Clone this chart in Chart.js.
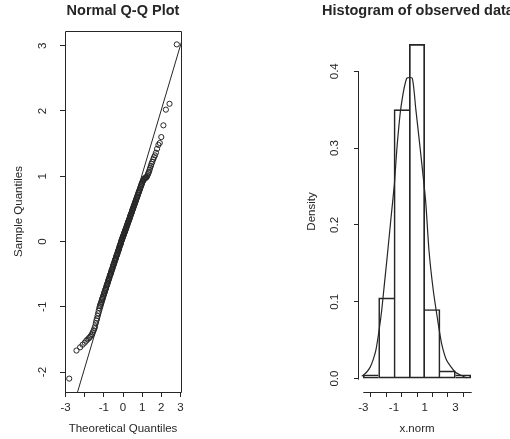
<!DOCTYPE html>
<html lang="en">
<head>
<meta charset="UTF-8">
<title>Normal Q-Q Plot | Histogram</title>
<script src="https://cdn.jsdelivr.net/npm/chart.js"></script>
<style>
  body { margin: 0; background: #fff; }
  .painel { position: absolute; top: 0; width: 255px; height: 439px; }
</style>
</head>
<body>
<div class="painel" style="left:0"><canvas id="qqChart" width="255" height="439"></canvas></div>
<div class="painel" style="left:255px"><canvas id="histChart" width="255" height="439"></canvas></div>

<script>
// ---- Q-Q plot data (200 points) ----
const theoQ = [
  -2.81,-2.43,-2.24,-2.11,-2.00,-1.92,-1.85,-1.78,-1.72,-1.67,
  -1.62,-1.58,-1.53,-1.49,-1.46,-1.42,-1.39,-1.36,-1.33,-1.30,
  -1.27,-1.24,-1.21,-1.19,-1.16,-1.14,-1.11,-1.09,-1.07,-1.05,
  -1.03,-1.00,-0.98,-0.97,-0.95,-0.93,-0.91,-0.89,-0.87,-0.85,
  -0.83,-0.82,-0.80,-0.78,-0.77,-0.75,-0.73,-0.72,-0.70,-0.68,
  -0.67,-0.65,-0.64,-0.62,-0.61,-0.59,-0.58,-0.56,-0.55,-0.53,
  -0.52,-0.50,-0.49,-0.48,-0.46,-0.45,-0.43,-0.42,-0.41,-0.39,
  -0.38,-0.37,-0.35,-0.34,-0.33,-0.31,-0.30,-0.29,-0.27,-0.26,
  -0.25,-0.23,-0.22,-0.21,-0.20,-0.18,-0.17,-0.16,-0.14,-0.13,
  -0.12,-0.11,-0.09,-0.08,-0.07,-0.06,-0.04,-0.03,-0.02,-0.01,
  0.01,0.02,0.03,0.04,0.06,0.07,0.08,0.09,0.11,0.12,
  0.13,0.14,0.16,0.17,0.18,0.20,0.21,0.22,0.23,0.25,
  0.26,0.27,0.29,0.30,0.31,0.33,0.34,0.35,0.37,0.38,
  0.39,0.41,0.42,0.43,0.45,0.46,0.48,0.49,0.50,0.52,
  0.53,0.55,0.56,0.58,0.59,0.61,0.62,0.64,0.65,0.67,
  0.68,0.70,0.72,0.73,0.75,0.77,0.78,0.80,0.82,0.83,
  0.85,0.87,0.89,0.91,0.93,0.95,0.97,0.98,1.00,1.03,
  1.05,1.07,1.09,1.11,1.14,1.16,1.19,1.21,1.24,1.27,
  1.30,1.33,1.36,1.39,1.42,1.46,1.49,1.53,1.58,1.62,
  1.67,1.72,1.78,1.85,1.92,2.00,2.11,2.24,2.43,2.81
];
const sampleQ = [
  -2.10,-1.67,-1.62,-1.58,-1.55,-1.52,-1.50,-1.48,-1.46,-1.44,
  -1.42,-1.39,-1.36,-1.33,-1.30,-1.25,-1.21,-1.18,-1.14,-1.10,
  -1.06,-1.02,-0.99,-0.97,-0.95,-0.93,-0.90,-0.88,-0.87,-0.85,
  -0.83,-0.81,-0.79,-0.78,-0.76,-0.74,-0.73,-0.71,-0.69,-0.67,
  -0.66,-0.65,-0.63,-0.61,-0.60,-0.58,-0.57,-0.56,-0.54,-0.52,
  -0.51,-0.50,-0.49,-0.47,-0.46,-0.44,-0.43,-0.42,-0.41,-0.39,
  -0.38,-0.36,-0.35,-0.35,-0.33,-0.32,-0.30,-0.29,-0.28,-0.27,
  -0.26,-0.25,-0.23,-0.22,-0.21,-0.20,-0.19,-0.18,-0.16,-0.15,
  -0.14,-0.13,-0.12,-0.11,-0.10,-0.08,-0.07,-0.06,-0.05,-0.04,
  -0.03,-0.02,0.00,0.01,0.02,0.03,0.04,0.05,0.06,0.07,
  0.08,0.09,0.10,0.11,0.12,0.13,0.14,0.15,0.16,0.17,
  0.18,0.19,0.20,0.21,0.22,0.24,0.25,0.25,0.26,0.28,
  0.29,0.30,0.31,0.32,0.33,0.34,0.35,0.36,0.38,0.39,
  0.40,0.41,0.42,0.43,0.44,0.45,0.47,0.48,0.49,0.50,
  0.51,0.53,0.54,0.55,0.56,0.58,0.59,0.60,0.61,0.63,
  0.64,0.65,0.67,0.68,0.69,0.71,0.72,0.74,0.75,0.76,
  0.78,0.79,0.81,0.83,0.84,0.86,0.88,0.88,0.90,0.92,
  0.93,0.94,0.95,0.96,0.97,0.97,0.98,0.98,0.99,1.01,
  1.03,1.05,1.07,1.10,1.13,1.16,1.19,1.22,1.26,1.29,
  1.32,1.36,1.42,1.48,1.51,1.60,1.78,2.02,2.11,3.02
];
// qqline end points (runs across the whole box, clipped)
const qqLineX = [-3.30, 3.30];
const qqLineY = [-3.22, 3.30];
const qqXTicks = [-3, -2, -1, 0, 1, 2, 3];
const qqXLabels = ['-3', '', '-1', '0', '1', '2', '3'];
const qqYTicks = [-2, -1, 0, 1, 2, 3];
const qqYLabels = ['-2', '-1', '0', '1', '2', '3'];

// ---- histogram data ----
const binMids = [-2.5, -1.5, -0.5, 0.5, 1.5, 2.5, 3.5];
const binDensity = [0.005, 0.105, 0.35, 0.435, 0.09, 0.01, 0.005];
// density curve drawn over the bars
const curveX = [-3.1, -2.8, -2.55, -2.35, -2.18, -1.97, -1.8, -1.62, -1.4, -1.19, -0.97, -0.82, -0.56, -0.17,
                0.19, 0.42, 0.72, 1.06, 1.28, 1.56, 1.88, 2.1, 2.43, 2.97, 3.5, 3.75];
const curveY = [0.003, 0.008, 0.015, 0.025, 0.037, 0.063, 0.089, 0.124, 0.167, 0.21, 0.254, 0.297, 0.351, 0.391,
                0.391, 0.351, 0.297, 0.232, 0.167, 0.115, 0.072, 0.046, 0.024, 0.009, 0.003, 0.001];
const histXTicks = [-3, -2, -1, 0, 1, 2, 3, 4];
const histXLabels = ['-3', '', '-1', '', '1', '', '3', ''];
const histYTicks = [0, 0.1, 0.2, 0.3, 0.4];
const histYLabels = ['0.0', '0.1', '0.2', '0.3', '0.4'];

const ink = '#262626';
const family = '"Liberation Sans", Arial, sans-serif';

// R style axes: rotated y labels, titles, box or short axis lines
const rAxes = {
  id: 'rAxes',
  afterDraw(chart, args, o) {
    const { ctx, chartArea: a, scales: { x, y } } = chart;
    ctx.save();
    ctx.strokeStyle = ink;
    ctx.fillStyle = ink;
    ctx.lineWidth = 1;
    ctx.beginPath();
    if (o.box) {
      ctx.rect(a.left + 0.5, a.top + 0.5, a.right - a.left, a.bottom - a.top);
    } else {
      const xs = x.ticks.map(t => x.getPixelForValue(t.value));
      const ys = y.ticks.map(t => y.getPixelForValue(t.value));
      ctx.moveTo(Math.min(...xs), a.bottom + 0.5);
      ctx.lineTo(Math.max(...xs) + 1, a.bottom + 0.5);
      ctx.moveTo(a.left - 0.5, Math.min(...ys));
      ctx.lineTo(a.left - 0.5, Math.max(...ys) + 1);
    }
    ctx.stroke();

    ctx.font = '11.5px ' + family;
    ctx.textAlign = 'center';
    ctx.textBaseline = 'middle';
    x.ticks.forEach((t, i) => ctx.fillText(o.xLabels[i], x.getPixelForValue(t.value), o.xLabelY));
    y.ticks.forEach((t, i) => {
      ctx.save();
      ctx.translate(o.yLabelX, y.getPixelForValue(t.value));
      ctx.rotate(-Math.PI / 2);
      ctx.fillText(o.yLabels[i], 0, 0);
      ctx.restore();
    });
    ctx.fillText(o.xTitle, (a.left + a.right) / 2, o.xTitleY);
    ctx.save();
    ctx.translate(o.yTitleX, (a.top + a.bottom) / 2);
    ctx.rotate(-Math.PI / 2);
    ctx.fillText(o.yTitle, 0, 0);
    ctx.restore();

    ctx.font = 'bold 14.5px ' + family;
    ctx.fillText(o.title, o.titleX, 11);
    ctx.restore();
  }
};

function rScale(min, max, ticks, size, isX) {
  return {
    type: 'linear',
    min: min,
    max: max,
    offset: false,
    afterBuildTicks: s => { s.ticks = ticks.map(v => ({ value: v })); },
    afterFit: s => { if (isX) s.height = size; else s.width = size; },
    ticks: { display: false },
    border: { display: false },
    grid: { drawOnChartArea: false, drawTicks: true, tickLength: 5, color: ink, lineWidth: 1 }
  };
}

// shared edge between two bars is drawn once, by the taller bar
function barEdges(c) {
  const i = c.dataIndex;
  const h = binDensity[i];
  const prev = i > 0 ? binDensity[i - 1] : -1;
  const next = i < binDensity.length - 1 ? binDensity[i + 1] : -1;
  return { top: 1, bottom: 1, left: h > prev ? 1 : 0, right: h >= next ? 1 : 0 };
}

// left: Normal Q-Q plot
new Chart(document.getElementById('qqChart'), {
  type: 'scatter',
  data: {
    datasets: [{
      data: theoQ.map((v, i) => ({ x: v, y: sampleQ[i] })),
      pointStyle: 'circle',
      pointRadius: 2.6,
      borderWidth: 1,
      borderColor: ink,
      backgroundColor: 'rgba(0,0,0,0)'
    }, {
      data: qqLineX.map((v, i) => ({ x: v, y: qqLineY[i] })),
      showLine: true,
      pointRadius: 0,
      borderWidth: 1,
      borderColor: ink
    }]
  },
  options: {
    responsive: false,
    animation: false,
    devicePixelRatio: 1,
    layout: { padding: { left: 0, right: 74, top: 31, bottom: 0 } },
    plugins: {
      legend: { display: false },
      tooltip: { enabled: false },
      rAxes: {
        box: true,
        title: 'Normal Q-Q Plot', titleX: 123,
        xTitle: 'Theoretical Quantiles', xTitleY: 429,
        yTitle: 'Sample Quantiles', yTitleX: 19,
        xLabels: qqXLabels, xLabelY: 408,
        yLabels: qqYLabels, yLabelX: 43
      }
    },
    scales: {
      x: rScale(-3.03, 3.03, qqXTicks, 47, true),
      y: rScale(-2.305, 3.225, qqYTicks, 65, false)
    }
  },
  plugins: [rAxes]
});

// right: histogram with density curve
new Chart(document.getElementById('histChart'), {
  type: 'bar',
  data: {
    datasets: [{
      type: 'bar',
      data: binMids.map((v, i) => ({ x: v, y: binDensity[i] })),
      barPercentage: 1,
      categoryPercentage: 1,
      borderSkipped: false,
      borderWidth: barEdges,
      borderColor: ink,
      backgroundColor: 'rgba(0,0,0,0)',
      order: 2
    }, {
      type: 'line',
      data: curveX.map((v, i) => ({ x: v, y: curveY[i] })),
      pointRadius: 0,
      borderWidth: 1.2,
      borderColor: ink,
      tension: 0.2,
      order: 1
    }]
  },
  options: {
    responsive: false,
    animation: false,
    devicePixelRatio: 1,
    layout: { padding: { left: 0, right: 35, top: 31, bottom: 0 } },
    plugins: {
      legend: { display: false },
      tooltip: { enabled: false },
      rAxes: {
        box: false,
        title: 'Histogram of observed data', titleX: 163,
        xTitle: 'x.norm', xTitleY: 429,
        yTitle: 'Density', yTitleX: 57,
        xLabels: histXLabels, xLabelY: 408,
        yLabels: histYLabels, yLabelX: 80
      }
    },
    scales: {
      x: rScale(-3.28, 4.28, histXTicks, 47, true),
      y: rScale(-0.0174, 0.4524, histYTicks, 104, false)
    }
  },
  plugins: [rAxes]
});
</script>
</body>
</html>
